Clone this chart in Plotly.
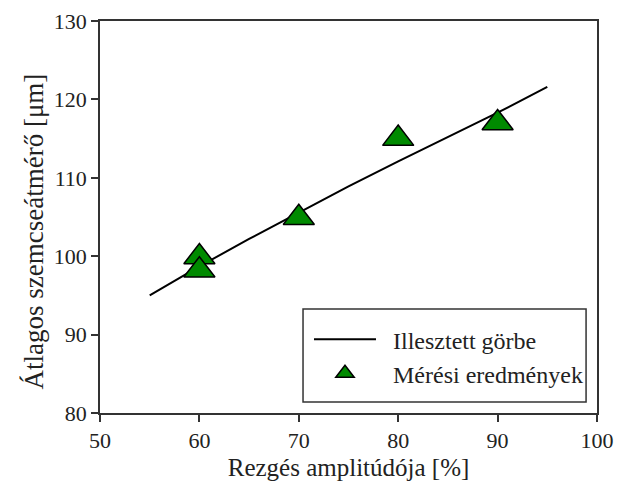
import plotly.graph_objects as go

# Fitted curve
amplitude_fit = [55, 60, 65, 70, 75, 80, 85, 90, 95]
diameter_fit = [95.0, 98.7, 102.2, 105.6, 108.9, 112.1, 115.2, 118.3, 121.6]

# Measurements
amplitude_meas = [60, 60, 70, 80, 90]
diameter_meas = [99.9, 98.2, 104.9, 115.0, 117.0]

x_ticks = [50, 60, 70, 80, 90, 100]
y_ticks = [80, 90, 100, 110, 120, 130]

FONT = "'Liberation Serif', 'Times New Roman', Times, serif"
NB = "\u00a0\u00a0"

fig = go.Figure()
fig.add_trace(go.Scatter(
    x=amplitude_fit, y=diameter_fit, mode="lines",
    line=dict(color="black", width=2),
    name=NB + "Illesztett görbe",
))
fig.add_trace(go.Scatter(
    x=amplitude_meas, y=diameter_meas, mode="markers",
    marker=dict(symbol="triangle-up", size=27, color="#008a00",
                line=dict(color="black", width=1.5)),
    name=NB + "Mérési eredmények",
))

axis_common = dict(
    showgrid=False, zeroline=False, automargin=False,
    showline=True, linecolor="#333333", linewidth=1.5, mirror=True,
    ticks="outside", ticklen=7, tickwidth=1.5, tickcolor="#333333",
    tickfont=dict(family=FONT, size=22, color="#222222"),
)

fig.update_layout(
    width=617, height=488,
    margin=dict(l=100, r=20, t=21, b=75),
    paper_bgcolor="white", plot_bgcolor="white",
    font=dict(family=FONT, color="#222222"),
    xaxis=dict(range=[50, 100], tickvals=x_ticks,
               title=dict(text="Rezgés amplitúdója [%]",
                          font=dict(family=FONT, size=25), standoff=6),
               **axis_common),
    yaxis=dict(range=[80, 130], tickvals=y_ticks, **axis_common),
    annotations=[dict(
        text="Átlagos szemcseátmérő [μm]", textangle=-90,
        xref="paper", yref="paper", x=-0.1348, y=0.463,
        xanchor="center", yanchor="middle", showarrow=False,
        font=dict(family=FONT, size=27, color="#222222"),
    )],
    showlegend=True,
    legend=dict(
        x=0.4205, y=0.144, xanchor="left", yanchor="middle",
        bgcolor="rgba(0,0,0,0)", borderwidth=0,
        font=dict(family=FONT, size=24, color="#222222"),
        itemsizing="trace", itemwidth=62,
    ),
    shapes=[dict(
        type="rect", xref="paper", yref="paper",
        x0=0.4085, x1=0.978, y0=0.028, y1=0.265,
        line=dict(color="#333333", width=1.5), fillcolor="white",
        layer="below",
    )],
)

fig.write_html("out.html")
